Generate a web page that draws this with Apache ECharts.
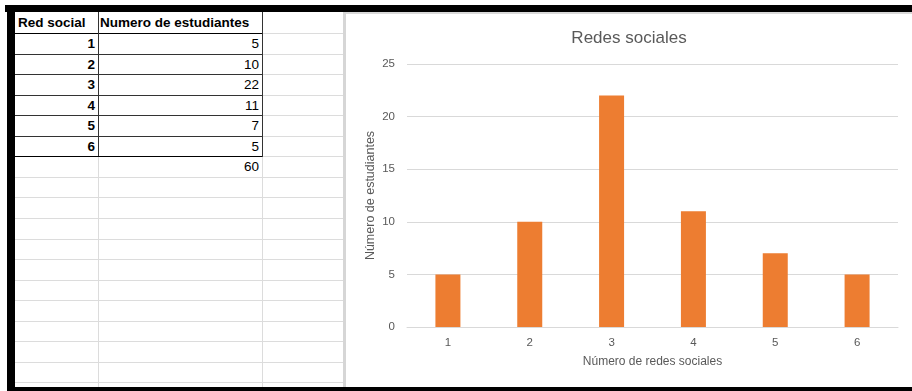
<!DOCTYPE html>
<html>
<head>
<meta charset="utf-8">
<script src="https://cdn.jsdelivr.net/npm/echarts@6/dist/echarts.min.js"></script>
<style>
  html, body { margin: 0; padding: 0; background: #fff; width: 912px; height: 391px; overflow: hidden; position: relative; font-family: "Liberation Sans", Arial, sans-serif; }
  .abs { position: absolute; }
  .cell { position: absolute; font-size: 13.5px; color: #000; line-height: 20px; white-space: nowrap; }
  #chart { position: absolute; left: 346px; top: 14px; width: 566px; height: 373px; }
</style>
</head>
<body>
<div id="sheet"></div>
<div id="chart"></div>
<script>
// ---- data ----
const tableHeaders = ["Red social", "Numero de estudiantes"];
const categories = ["1", "2", "3", "4", "5", "6"];
const students = [5, 10, 22, 11, 7, 5];
const total = 60;
const chartTitle = "Redes sociales";
const xAxisName = "Número de redes sociales";
const yAxisName = "Número de estudiantes";

// ---- spreadsheet background ----
const sheet = document.getElementById('sheet');
function box(l, t, w, h, color) {
  const d = document.createElement('div');
  d.className = 'abs';
  d.style.cssText = `left:${l}px;top:${t}px;width:${w}px;height:${h}px;background:${color};`;
  sheet.appendChild(d);
}
function text(str, l, t, w, align, bold) {
  const d = document.createElement('div');
  d.className = 'cell';
  d.textContent = str;
  d.style.left = l + 'px';
  d.style.top = t + 'px';
  d.style.width = w + 'px';
  d.style.textAlign = align;
  d.style.fontWeight = bold ? 'bold' : 'normal';
  sheet.appendChild(d);
}
const rowH = 20.55, row0 = 12.5;
const colX = [15, 98, 262, 343];
// grid lines
for (let k = 1; k <= 18; k++) box(15, Math.round(row0 + rowH * k), 330, 1, '#dcdcdc');
colX.slice(1).forEach(x => box(x, 12, 1, 376, '#dcdcdc'));
box(343, 12, 3, 376, '#d6d6d6');
// table borders (header + 6 data rows)
const nData = students.length;
for (let k = 1; k <= nData + 1; k++) box(15, Math.round(row0 + rowH * k), 248, 1, k === 1 || k === nData + 1 ? '#000' : '#333');
box(98, 12, 1, Math.round(row0 + rowH * (nData + 1)) - 12, '#333');
box(262, 12, 1, Math.round(row0 + rowH * (nData + 1)) - 12 + 1, '#333');
// text
text(tableHeaders[0], 18, row0 + 0.5, 80, 'left', true);
text(tableHeaders[1], 100, row0 + 0.5, 160, 'left', true);
categories.forEach((c, i) => {
  const t = row0 + rowH * (i + 1) + 1;
  text(c, 15, t, 80, 'right', true);
  text(String(students[i]), 98, t, 161, 'right', false);
});
text(String(total), 98, row0 + rowH * (nData + 1) + 1, 161, 'right', false);
// black frame
box(5, 5, 907, 7, '#000');
box(7, 12, 8, 379, '#000');
box(7, 387, 905, 4, '#000');
// chart border
box(346, 12, 566, 2, '#d9d9d9');

// ---- chart ----
const chart = echarts.init(document.getElementById('chart'), null, { renderer: 'canvas' });
chart.setOption({
  animation: false,
  backgroundColor: '#fff',
  textStyle: { fontFamily: '"Liberation Sans", Arial, sans-serif' },
  title: {
    text: chartTitle,
    left: 'center',
    top: 11,
    textStyle: { fontSize: 17, fontWeight: 'normal', color: '#595959' }
  },
  grid: { left: 61, right: 14, top: 50, bottom: 60 },
  xAxis: {
    type: 'category',
    data: categories,
    name: xAxisName,
    nameLocation: 'middle',
    nameGap: 29,
    nameTextStyle: { fontSize: 12, color: '#595959' },
    axisLine: { lineStyle: { color: '#d9d9d9' } },
    axisTick: { show: false },
    axisLabel: { fontSize: 11.5, color: '#595959', margin: 10 }
  },
  yAxis: {
    type: 'value',
    min: 0,
    max: 25,
    interval: 5,
    name: yAxisName,
    nameLocation: 'middle',
    nameGap: 30,
    nameRotate: 90,
    nameMoveOverlap: false,
    nameTextStyle: { fontSize: 12.5, color: '#595959' },
    axisLine: { show: false },
    axisTick: { show: false },
    axisLabel: { fontSize: 11.5, color: '#595959', margin: 12 },
    splitLine: { lineStyle: { color: '#d9d9d9' } }
  },
  series: [{
    type: 'bar',
    data: students,
    barWidth: 25,
    itemStyle: { color: '#ED7D31' }
  }]
});
</script>
</body>
</html>
